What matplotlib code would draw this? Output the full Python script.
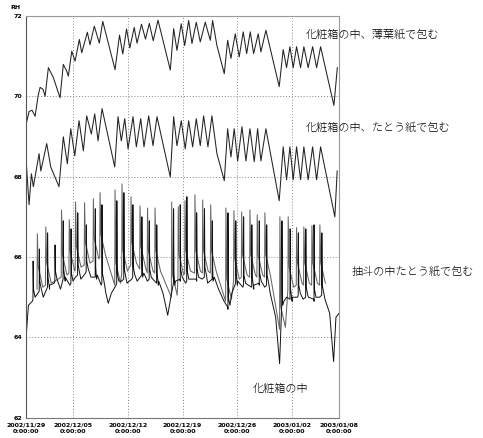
import matplotlib.pyplot as plt

plt.rcParams['font.family'] = ['DejaVu Sans']

# days counted from 2002/11/29 0:00:00
tick_days = [0, 6, 13, 20, 27, 34, 40]
tick_labels = ['2002/11/29\n0:00:00', '2002/12/05\n0:00:00', '2002/12/12\n0:00:00',
               '2002/12/19\n0:00:00', '2002/12/26\n0:00:00', '2003/01/02\n0:00:00',
               '2003/01/08\n0:00:00']

# 化粧箱の中、薄葉紙で包む
tissue_day = [0.0, 0.38, 0.77, 1.15, 1.53, 1.79, 2.17, 2.43, 2.85, 3.49, 4.34, 4.76, 5.2, 5.4,
              5.84, 6.26, 6.81, 7.11, 7.83, 8.17, 8.72, 9.36, 9.8, 11.37, 11.94, 12.36, 12.84,
              13.26, 13.82, 14.18, 14.75, 15.26, 15.75, 16.25, 16.86, 18.43, 18.86, 19.28,
              19.83, 20.27, 20.78, 21.2, 21.75, 22.26, 22.9, 23.54, 23.84, 24.39, 25.33, 25.76,
              26.18, 26.73, 27.24, 27.75, 28.19, 28.65, 29.08, 29.67, 30.01, 30.65, 32.35,
              32.86, 33.29, 33.72, 34.14, 34.57, 35.08, 35.5, 36.05, 36.62, 37.13, 37.64,
              39.34, 39.78]
tissue_rh = [69.3, 69.62, 69.65, 69.5, 70.0, 70.22, 70.17, 70.0, 70.71, 70.46, 69.96, 70.79,
             70.62, 70.5, 71.12, 70.87, 71.41, 71.08, 71.59, 71.28, 71.74, 71.32, 71.86, 70.66,
             71.52, 71.05, 71.67, 71.2, 71.71, 71.32, 71.79, 71.42, 71.81, 71.38, 71.89, 70.65,
             71.68, 71.14, 71.8, 71.26, 71.88, 71.31, 71.84, 71.35, 71.84, 71.39, 71.88, 71.26,
             70.56, 71.39, 70.94, 71.55, 70.98, 71.6, 71.06, 71.6, 71.06, 71.55, 71.1, 71.64,
             70.24, 71.16, 70.71, 71.23, 70.71, 71.23, 70.71, 71.23, 70.71, 71.23, 70.71, 71.23,
             69.77, 70.71]

# 化粧箱の中、たとう紙で包む
tatou_day = [0.0, 0.38, 0.68, 0.93, 1.66, 1.88, 2.64, 3.15, 4.21, 4.76, 5.27, 5.71, 6.22, 6.77,
             7.32, 7.75, 8.34, 8.77, 9.2, 9.71, 11.33, 11.75, 12.17, 12.61, 13.03, 13.67, 14.09,
             14.65, 15.07, 15.67, 16.22, 16.73, 18.43, 18.86, 19.28, 19.83, 20.34, 20.78, 21.29,
             21.75, 22.26, 22.69, 23.24, 23.75, 24.39, 25.33, 25.76, 26.18, 26.6, 27.04, 27.59,
             28.1, 28.61, 29.16, 29.59, 30.01, 30.65, 32.35, 32.86, 33.29, 33.72, 34.14, 34.57,
             35.08, 35.5, 36.05, 36.62, 37.13, 37.64, 39.46, 39.76]
tatou_rh = [68.42, 67.3, 68.07, 67.75, 68.57, 68.14, 68.82, 68.24, 67.75, 68.99, 68.32, 69.19,
            68.52, 69.39, 68.64, 69.51, 69.06, 69.56, 68.89, 69.69, 68.24, 69.49, 68.89, 69.44,
            68.69, 69.49, 68.74, 69.44, 68.74, 69.51, 68.77, 69.49, 67.99, 69.49, 68.77, 69.39,
            68.69, 69.39, 68.74, 69.44, 68.77, 69.51, 68.74, 69.51, 68.57, 67.9, 69.19, 68.49,
            69.19, 68.39, 69.24, 68.39, 69.19, 68.37, 69.19, 68.39, 69.19, 67.4, 68.74, 67.92,
            68.74, 67.92, 68.74, 67.92, 68.74, 67.92, 68.74, 67.92, 68.74, 67.0, 68.14]

# 抽斗の中たとう紙で包む : daily spikes (time, peak) and level before each spike
drawer_spike_day = [1.44, 2.52, 4.53, 5.52, 6.32, 7.47, 8.6, 9.45, 11.37, 12.26, 13.41, 14.56,
                    15.52, 16.48, 18.61, 19.45, 20.31, 21.58, 22.57, 23.59, 25.54, 26.56,
                    27.55, 28.61, 29.54, 30.52, 32.44, 33.5, 34.57, 35.5, 36.53, 37.55]
drawer_peak = [66.58, 66.75, 67.17, 66.93, 67.37, 67.35, 67.45, 67.6, 67.67, 67.82, 67.5, 67.27,
               67.22, 67.22, 67.37, 67.25, 67.4, 67.55, 67.42, 67.3, 67.22, 67.15, 67.12, 67.17,
               67.05, 67.1, 67.0, 67.0, 66.73, 66.75, 66.78, 66.8]
drawer_base = [65.2, 65.3, 65.5, 65.6, 65.7, 65.8, 65.9, 66.0, 65.3, 65.6, 65.8, 65.7,
               65.6, 65.6, 65.0, 65.5, 65.6, 65.6, 65.6, 65.6, 64.9, 65.4, 65.5, 65.5,
               65.5, 65.5, 64.2, 65.2, 65.3, 65.3, 65.3, 65.3]

# 化粧箱の中 : slow level plus one short spike a day
box_day = [0, 0.3, 0.8, 1.5, 2.2, 3.0, 3.6, 4.4, 5.0, 5.6, 6.3, 7.0, 7.6, 8.3, 9.0, 9.6, 10.2,
           10.5, 10.9, 11.5, 12.2, 12.9, 13.5, 14.2, 14.9, 15.5, 16.2, 16.9, 17.5, 18.1, 18.5,
           19.0, 19.7, 20.4, 21.1, 21.8, 22.5, 23.2, 23.9, 24.6, 25.3, 25.8, 26.3, 27.0, 27.7,
           28.4, 29.1, 29.8, 30.5, 31.2, 31.9, 32.4, 32.8, 33.3, 34.0, 34.7, 35.4, 36.1, 36.8,
           37.5, 38.2, 38.8, 39.3, 39.6, 40.0]
box_rh = [64.0, 64.8, 64.9, 65.1, 65.0, 65.2, 65.35, 65.2, 65.4, 65.3, 65.5, 65.45, 65.6, 65.5,
          65.45, 65.3, 65.1, 64.85, 65.1, 65.3, 65.4, 65.35, 65.45, 65.4, 65.5, 65.4, 65.45,
          65.3, 65.1, 64.55, 65.0, 65.3, 65.4, 65.35, 65.45, 65.4, 65.45, 65.35, 65.4, 65.2,
          64.9, 64.7, 65.1, 65.3, 65.25, 65.3, 65.2, 65.3, 65.25, 65.1, 64.5, 63.35, 64.8,
          65.0, 64.9, 65.0, 64.95, 65.0, 64.9, 65.0, 64.95, 64.6, 63.4, 64.5, 64.6]
box_spike_day = [0.9, 1.7, 2.75, 3.7, 4.75, 5.75, 6.6, 7.7, 8.85, 9.7, 11.6, 12.5, 13.65, 14.8,
                 15.75, 16.7, 18.85, 19.7, 20.55, 21.8, 22.8, 23.8, 25.8, 26.8, 27.8, 28.85,
                 29.8, 30.75, 32.7, 33.75, 34.8, 35.75, 36.8, 37.8]
box_peak = [65.9, 66.2, 66.6, 66.3, 66.9, 66.7, 67.1, 66.8, 67.2, 67.3, 67.4, 67.6, 67.3,
            67.0, 66.9, 66.8, 67.2, 67.3, 67.5, 67.1, 67.2, 66.9, 67.1, 66.9, 67.0, 66.8,
            66.9, 66.8, 66.9, 66.7, 66.6, 66.7, 66.8, 66.6]

# drawer trace: sharp rise, quick drop, slow decay towards the next level
dx, dy = [], []
for d, p, b in zip(drawer_spike_day, drawer_peak, drawer_base):
    dx += [d - 0.04, d, d + 0.12, d + 0.7]
    dy += [b, p, b + 0.55, b + 0.05]

# box trace: spikes cut into the slow level line
pts = sorted(zip(box_day, box_rh))
for d, p in zip(box_spike_day, box_peak):
    lvl = min(pts, key=lambda q: abs(q[0] - d))[1]
    pts += [(d - 0.02, lvl + 0.05), (d, p), (d + 0.05, lvl + 0.3), (d + 0.25, lvl + 0.1)]
pts.sort()
bx = [q[0] for q in pts]
by = [q[1] for q in pts]

fig = plt.figure(figsize=(4.83, 4.38), dpi=100)
ax = fig.add_axes([0.054, 0.046, 0.648, 0.918])

ax.plot(tissue_day, tissue_rh, color='#222222', lw=0.75)
ax.plot(tatou_day, tatou_rh, color='#222222', lw=0.75)
ax.plot(dx, dy, color='#666666', lw=0.75)
ax.plot(bx, by, color='#111111', lw=0.7)

ax.set_xlim(0, 40)
ax.set_ylim(62, 72)
ax.set_xticks(tick_days)
ax.set_xticklabels(tick_labels, fontsize=4.5, fontweight='bold', linespacing=1.6)
ax.set_yticks([62, 64, 66, 68, 70, 72])
ax.set_yticklabels(['62', '64', '66', '68', '70', '72'], fontsize=4.5, fontweight='bold')
ax.tick_params(length=0, pad=3)
ax.grid(True, color='#888888', ls=(0, (1, 2)), lw=0.7)
for s in ['top', 'right']:
    ax.spines[s].set_color('#999999')
ax.spines['left'].set_color('#555555')
ax.spines['bottom'].set_color('#777777')

fig.text(0.021, 0.982, 'RH', fontsize=4.5, fontweight='bold', va='center')

jp = ['Noto Sans CJK JP', 'DejaVu Sans']
fig.text(0.632, 0.920, '化粧箱の中、薄葉紙で包む', family=jp, fontsize=8, fontweight='light', va='center')
fig.text(0.632, 0.708, '化粧箱の中、たとう紙で包む', family=jp, fontsize=8, fontweight='light', va='center')
fig.text(0.728, 0.379, '抽斗の中たとう紙で包む', family=jp, fontsize=8, fontweight='light', va='center')
fig.text(0.524, 0.110, '化粧箱の中', family=jp, fontsize=8, fontweight='light', va='center')

fig.savefig('out.png', dpi=100)
